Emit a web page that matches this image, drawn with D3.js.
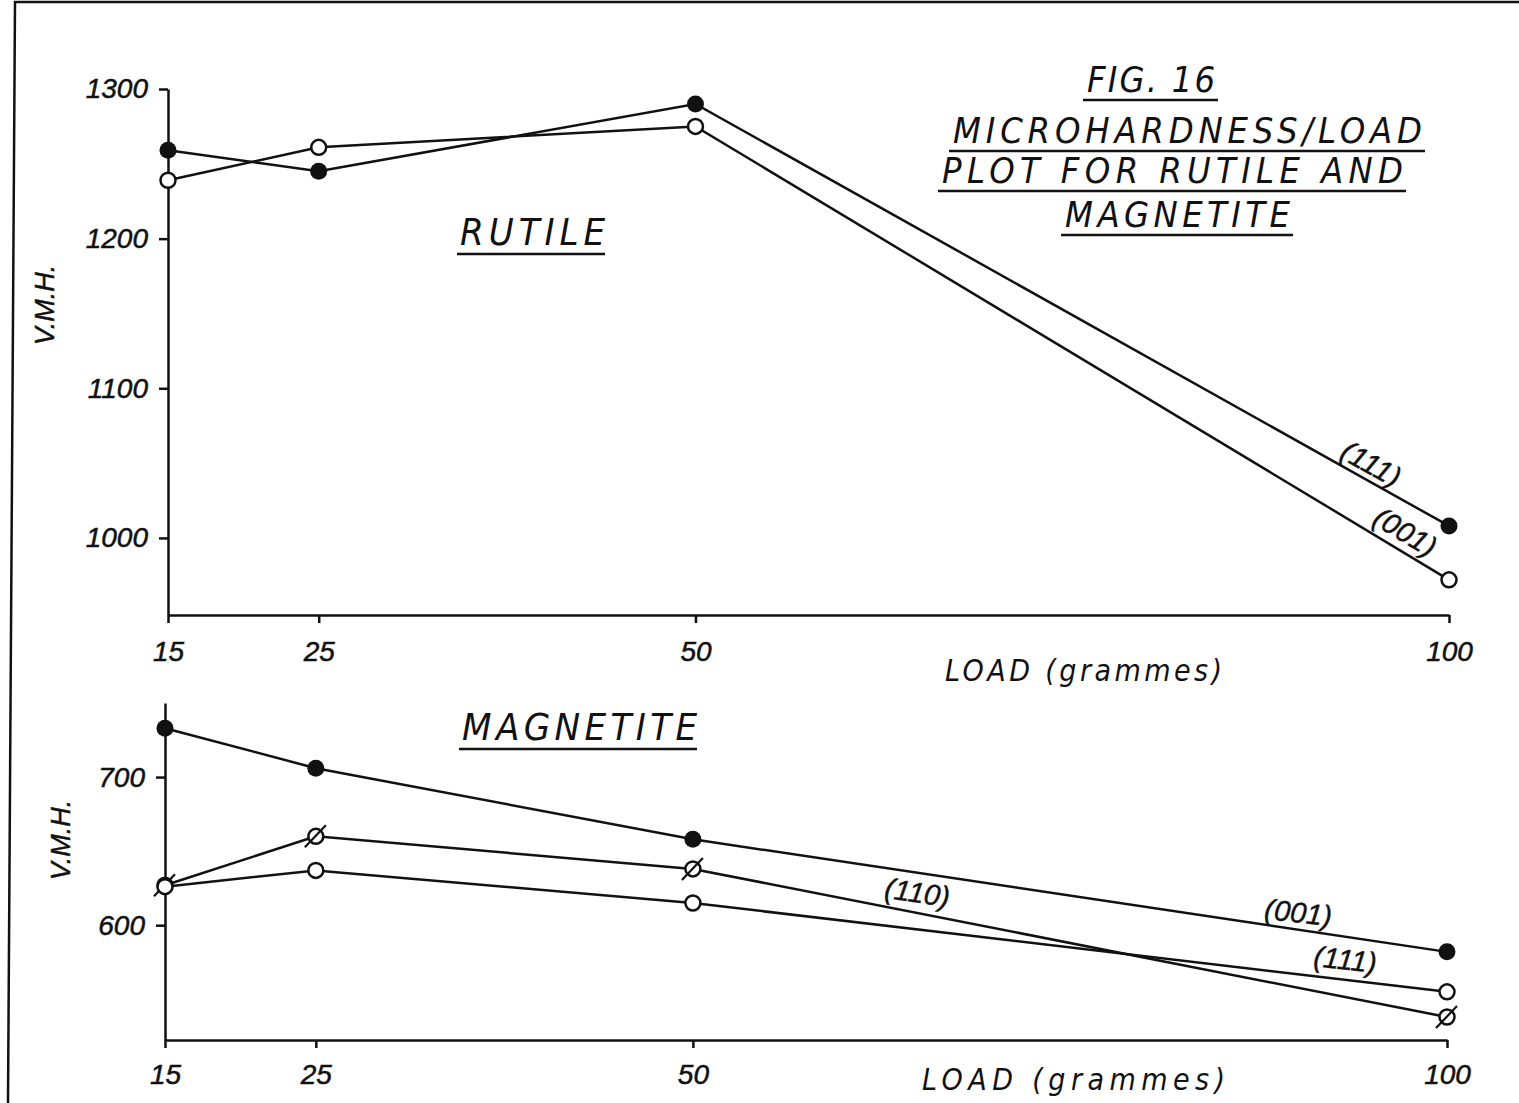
<!DOCTYPE html>
<html>
<head>
<meta charset="utf-8">
<script src="https://cdn.jsdelivr.net/npm/d3@7"></script>
<style>
  body { margin: 0; background: #fff; }
  .tick text { font-family: "Liberation Sans", Arial, sans-serif; font-style: italic; stroke: #111; stroke-width: 0.5; }
  .stencil { font-family: "DejaVu Sans Condensed", "DejaVu Sans", sans-serif; font-style: oblique; fill: #111; }
  .lbl { font-family: "Liberation Sans", Arial, sans-serif; font-style: italic; fill: #111; stroke: #111; stroke-width: 0.4; }
</style>
</head>
<body>
<svg id="svg1" width="1519" height="1103"></svg>
<script>
//DATA
var loads = [15, 25, 50, 100];
var xTicks = [15, 25, 50, 100];

//rutile panel (V.M.H.)
var rutile111 = [1259, 1245, 1290, 1008];
var rutile001 = [1239, 1261, 1275, 972];
var rutileTicks = [1000, 1100, 1200, 1300];

//magnetite panel (V.M.H.)
var magnetite001 = [733, 706, 658, 582];
var magnetite110 = [627, 660, 638, 538];
var magnetite111 = [626, 637, 615, 555];
var magnetiteTicks = [600, 700];

var titleLines = ["FIG. 16", "MICROHARDNESS/LOAD", "PLOT FOR RUTILE AND", "MAGNETITE"];

var svg = d3.select("#svg1");
var ink = "#111";

//frame of the scanned sheet
svg.append("path")
    .attr("d", "M1519,2 L15,2 L8,1103")
    .attr("fill", "none")
    .attr("stroke", ink)
    .attr("stroke-width", 2.5);

/////////////////////////////////////////
// PANEL BUILDER
/////////////////////////////////////////
function makePanel(p) {
    var xScale = d3.scaleLinear().domain([15, 100]).range([p.x0, p.x1]);
    var yScale = d3.scaleLinear().domain(p.yDomain).range([p.yBottom, p.yTop]);

    var g = svg.append("g");

    //y axis
    var yAxis = d3.axisLeft(yScale).tickValues(p.yTicks).tickFormat(d3.format("d"))
        .tickSize(9).tickSizeOuter(0).tickPadding(11);
    var ya = g.append("g")
        .attr("transform", "translate(" + p.x0 + ",0)")
        .call(yAxis);
    ya.selectAll("path, line").attr("stroke", ink).attr("stroke-width", 2.5);
    ya.selectAll("text").attr("font-size", 28).attr("fill", ink);

    //x axis
    var xAxis = d3.axisBottom(xScale).tickValues(xTicks).tickFormat(d3.format("d"))
        .tickSize(8).tickSizeOuter(0).tickPadding(p.xPad);
    var xa = g.append("g")
        .attr("transform", "translate(0," + p.yBottom + ")")
        .call(xAxis);
    xa.selectAll("path, line").attr("stroke", ink).attr("stroke-width", 2.5);
    xa.selectAll("text").attr("font-size", 28).attr("fill", ink);

    //lines
    var line = d3.line()
        .x(function (d, i) { return xScale(loads[i]); })
        .y(function (d) { return yScale(d); });

    p.series.forEach(function (s) {
        g.append("path")
            .datum(s.values)
            .attr("d", line)
            .attr("fill", "none")
            .attr("stroke", ink)
            .attr("stroke-width", 2.5);
    });

    //markers
    p.series.forEach(function (s) {
        var m = g.append("g").selectAll("g")
            .data(s.values)
            .enter()
            .append("g")
            .attr("transform", function (d, i) {
                return "translate(" + xScale(loads[i]) + "," + yScale(d) + ")";
            });
        if (s.marker == "filled") {
            m.append("circle").attr("r", 8.5).attr("fill", ink);
        } else {
            m.append("circle").attr("r", 7.5).attr("fill", "#fff")
                .attr("stroke", ink).attr("stroke-width", 2.5);
        }
        if (s.marker == "slashed") {
            m.append("line")
                .attr("x1", -11).attr("y1", 11).attr("x2", 10).attr("y2", -11)
                .attr("stroke", ink).attr("stroke-width", 2.2);
        }
    });

    //V.M.H. label
    g.append("text")
        .attr("class", "lbl")
        .attr("transform", "translate(" + p.vmh[0] + "," + p.vmh[1] + ") rotate(-90)")
        .attr("text-anchor", "middle")
        .attr("font-size", 27)
        .text("V.M.H.");

    //LOAD (grammes)
    g.append("text")
        .attr("class", "stencil")
        .attr("x", p.load[0])
        .attr("y", p.load[1])
        .attr("font-size", 30)
        .attr("textLength", p.load[2])
        .attr("lengthAdjust", "spacing")
        .text("LOAD (grammes)");

    //mineral name, underlined
    g.append("text")
        .attr("class", "stencil")
        .attr("x", p.name[0])
        .attr("y", p.name[1])
        .attr("font-size", 38)
        .attr("textLength", p.name[2])
        .attr("lengthAdjust", "spacing")
        .text(p.mineral);
    g.append("line")
        .attr("x1", p.name[0] - 3).attr("x2", p.name[0] + p.name[2])
        .attr("y1", p.name[1] + 9).attr("y2", p.name[1] + 9)
        .attr("stroke", ink).attr("stroke-width", 2.5);

    //plane labels along the lines
    p.tags.forEach(function (t) {
        g.append("text")
            .attr("class", "lbl")
            .attr("transform", "translate(" + t.x + "," + t.y + ") rotate(" + t.r + ")")
            .attr("text-anchor", "middle")
            .attr("dominant-baseline", "middle")
            .attr("font-size", 29)
            .text(t.text);
    });
}

//RUTILE
makePanel({
    x0: 168, x1: 1449,
    yDomain: [948.5, 1300], yBottom: 615, yTop: 89,
    yTicks: rutileTicks, xPad: 18,
    series: [
        { values: rutile111, marker: "filled" },
        { values: rutile001, marker: "open" }
    ],
    vmh: [54, 305],
    load: [945, 681, 277],
    name: [460, 245, 145],
    mineral: "RUTILE",
    tags: [
        { text: "(111)", x: 1370, y: 466, r: 29 },
        { text: "(001)", x: 1404, y: 534, r: 31 }
    ]
});

//MAGNETITE
makePanel({
    x0: 165, x1: 1447,
    yDomain: [522.5, 750], yBottom: 1040, yTop: 703,
    yTicks: magnetiteTicks, xPad: 16,
    series: [
        { values: magnetite001, marker: "filled" },
        { values: magnetite110, marker: "slashed" },
        { values: magnetite111, marker: "open" }
    ],
    vmh: [70, 840],
    load: [922, 1090, 303],
    name: [462, 740, 235],
    mineral: "MAGNETITE",
    tags: [
        { text: "(110)", x: 917, y: 895, r: 8 },
        { text: "(001)", x: 1298, y: 915, r: 6 },
        { text: "(111)", x: 1345, y: 962, r: 6 }
    ]
});

//TITLE BLOCK
var titleLayout = [
    { x: 1087, y: 92, w: 128 },
    { x: 953, y: 143, w: 469 },
    { x: 942, y: 183, w: 461 },
    { x: 1065, y: 227, w: 225 }
];
titleLines.forEach(function (t, i) {
    var L = titleLayout[i];
    svg.append("text")
        .attr("class", "stencil")
        .attr("x", L.x)
        .attr("y", L.y)
        .attr("font-size", 36)
        .attr("textLength", L.w)
        .attr("lengthAdjust", "spacing")
        .text(t);
    svg.append("line")
        .attr("x1", L.x - 4).attr("x2", L.x + L.w + 3)
        .attr("y1", L.y + 8).attr("y2", L.y + 8)
        .attr("stroke", ink).attr("stroke-width", 2.5);
});
</script>
</body>
</html>
